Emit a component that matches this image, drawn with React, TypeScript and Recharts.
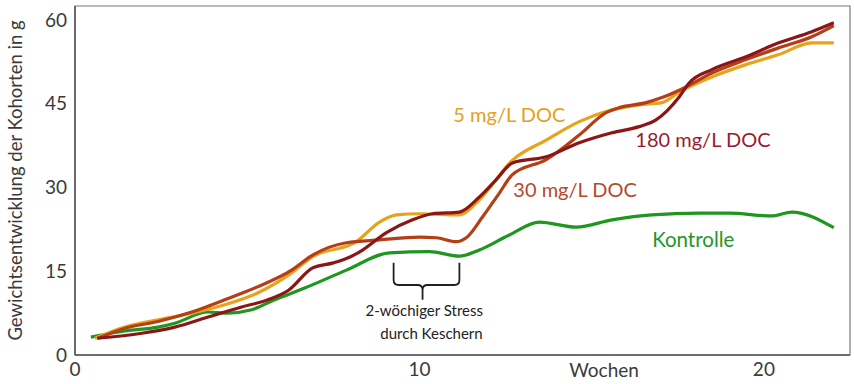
import React from 'react';
import { LineChart, Line, XAxis, YAxis, ReferenceArea, ReferenceDot } from 'recharts';

// Gewicht (g) je Woche
const kontrolleWochen = [0.46, 1.45, 2.41, 2.9, 3.86, 4.43, 5.13, 5.8, 6.67, 7.88, 9.13, 10.29, 11.16, 11.74, 12.61, 13.48, 14.55, 15.59, 16.75, 18.12, 18.99, 20.23, 20.81, 22.03];
const kontrolleGewicht = [3.2, 4.3, 5.0, 5.7, 7.7, 7.5, 8.1, 9.9, 12.0, 15.2, 18.3, 18.5, 17.7, 18.8, 21.5, 23.8, 22.9, 24.2, 25.1, 25.4, 25.4, 24.9, 25.6, 22.8];

const doc5Wochen = [0.58, 1.45, 2.41, 3.39, 4.35, 5.3, 6.29, 6.9, 8.17, 8.84, 9.33, 10.0, 11.16, 11.74, 12.7, 13.68, 14.64, 15.59, 16.38, 17.04, 17.54, 18.49, 19.48, 20.43, 21.39, 22.03];
const doc5Gewicht = [3.0, 5.0, 6.3, 7.5, 9.0, 11.1, 14.7, 17.6, 20.3, 23.8, 25.1, 25.3, 25.1, 27.8, 34.9, 38.5, 41.8, 43.9, 44.8, 45.2, 47.1, 49.8, 52.0, 53.8, 55.9, 55.9];

const doc30Wochen = [0.67, 1.45, 2.41, 3.39, 4.35, 5.3, 6.29, 6.9, 7.88, 8.84, 10.0, 10.49, 11.07, 11.36, 11.83, 12.32, 12.7, 13.68, 14.64, 15.42, 15.8, 16.58, 17.04, 17.74, 18.49, 19.48, 20.43, 21.39, 22.03];
const doc30Gewicht = [3.0, 4.8, 6.0, 7.7, 9.9, 12.2, 15.2, 17.9, 20.1, 20.6, 21.1, 21.0, 20.3, 21.0, 24.7, 29.0, 32.3, 35.0, 39.4, 43.4, 44.3, 45.2, 46.1, 48.0, 50.5, 52.9, 55.0, 57.0, 59.0];

const doc180Wochen = [0.64, 1.94, 2.9, 3.86, 4.84, 5.6, 6.2, 6.9, 7.5, 8.0, 8.35, 9.04, 9.8, 10.38, 11.16, 11.74, 12.23, 12.7, 13.68, 14.64, 15.59, 16.38, 16.87, 17.54, 17.83, 18.49, 19.48, 20.43, 21.39, 22.03];
const doc180Gewicht = [3.0, 3.9, 5.0, 6.8, 8.6, 9.9, 11.6, 15.6, 16.5, 17.6, 18.8, 21.9, 24.2, 25.3, 25.6, 28.3, 31.4, 34.4, 35.5, 38.0, 39.8, 40.9, 42.1, 46.2, 48.7, 51.1, 53.4, 55.9, 57.9, 59.5];

const xTicks = [0, 10, 20];
const yTicks = [0, 15, 30, 45, 60];

const toPoints = (wochen: number[], gewicht: number[]) =>
  wochen.map((w, i) => ({ woche: w, gewicht: gewicht[i] }));

const font = 'Lato, "Open Sans", sans-serif';

const Brace = (props: any) => {
  const { x, y, width, height } = props;
  const mid = x + width * 0.44;
  const yc = y + height * 0.6;
  const r = 5;
  const d =
    `M${x},${y} V${yc - r} Q${x},${yc} ${x + r},${yc} H${mid - r} Q${mid},${yc} ${mid},${yc + r} V${y + height} ` +
    `M${x + width},${y} V${yc - r} Q${x + width},${yc} ${x + width - r},${yc} H${mid + r} Q${mid},${yc} ${mid},${yc + r}`;
  return <path d={d} fill="none" stroke="#222" strokeWidth={1.8} />;
};

const note = (value: string, fill: string, fontSize: number) => ({
  value,
  position: 'center' as const,
  fill,
  fontSize,
  fontFamily: font,
});

export default function App() {
  return (
    <div style={{ position: 'absolute', left: 0, top: 0, background: '#fff' }}>
      <LineChart width={854} height={384} margin={{ top: 6, right: 4, bottom: 0, left: 0 }} style={{ fontFamily: font }}>
        <XAxis
          dataKey="woche"
          type="number"
          domain={[0, 22.5]}
          ticks={xTicks}
          allowDataOverflow
          height={29}
          tickLine={false}
          stroke="#555"
          strokeWidth={1.5}
          tick={{ fill: '#3a3a3a', fontSize: 19, fontFamily: font }}
        />
        <YAxis
          type="number"
          domain={[0, 62.5]}
          ticks={yTicks}
          allowDataOverflow
          width={75}
          tickLine={false}
          stroke="#555"
          strokeWidth={1.5}
          tick={{ fill: '#3a3a3a', fontSize: 19, fontFamily: font }}
          label={{
            value: 'Gewichtsentwicklung der Kohorten in g',
            angle: -90,
            position: 'insideLeft',
            offset: 15,
            style: { textAnchor: 'middle', fill: '#3a3a3a', fontSize: 18.5, fontFamily: font },
          }}
        />
        <ReferenceArea x1={0} x2={22.5} y1={0} y2={62.5} fill="none" stroke="#777" strokeWidth={1.2} />

        <Line data={toPoints(kontrolleWochen, kontrolleGewicht)} dataKey="gewicht" type="monotone" stroke="#1f961f" strokeWidth={3.2} dot={false} isAnimationActive={false} />
        <Line data={toPoints(doc5Wochen, doc5Gewicht)} dataKey="gewicht" type="monotone" stroke="#e8a31a" strokeWidth={3.2} dot={false} isAnimationActive={false} />
        <Line data={toPoints(doc30Wochen, doc30Gewicht)} dataKey="gewicht" type="monotone" stroke="#b43e16" strokeWidth={3.2} dot={false} isAnimationActive={false} />
        <Line data={toPoints(doc180Wochen, doc180Gewicht)} dataKey="gewicht" type="monotone" stroke="#8c1616" strokeWidth={3.2} dot={false} isAnimationActive={false} />

        <ReferenceArea x1={9.25} x2={11.16} y1={9.9} y2={16.5} shape={Brace} />

        <ReferenceDot x={12.61} y={43.0} r={0} label={note('5 mg/L DOC', '#e6a022', 20)} />
        <ReferenceDot x={18.23} y={38.5} r={0} label={note('180 mg/L DOC', '#9b1b2e', 20)} />
        <ReferenceDot x={14.52} y={29.6} r={0} label={note('30 mg/L DOC', '#b8482c', 20)} />
        <ReferenceDot x={17.95} y={20.6} r={0} label={note('Kontrolle', '#25962a', 20.5)} />
        <ReferenceDot x={10.14} y={7.9} r={0} label={note('2-wöchiger Stress', '#222', 15)} />
        <ReferenceDot x={10.35} y={3.9} r={0} label={note('durch Keschern', '#222', 15)} />
        <ReferenceDot x={15.36} y={0} r={0} label={{ value: 'Wochen', position: 'bottom', offset: 9, fill: '#3a3a3a', fontSize: 19, fontFamily: font }} />
      </LineChart>
    </div>
  );
}
